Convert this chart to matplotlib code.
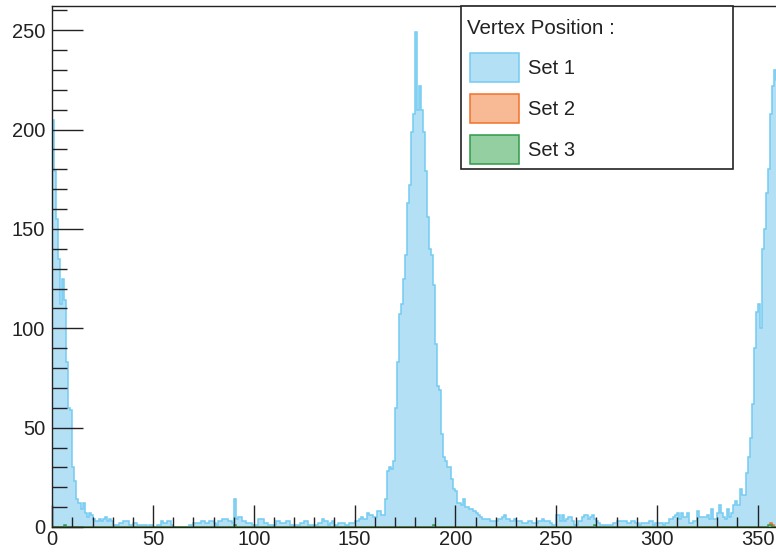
import matplotlib
matplotlib.use('Agg')
import matplotlib.pyplot as plt
from matplotlib.patches import Rectangle
from matplotlib.ticker import MultipleLocator
import numpy as np

plt.rcParams['font.family'] = ['Liberation Sans', 'DejaVu Sans']

# one bin per unit, 0 .. 360
bin_edges = np.arange(0, 361, 1)

set1 = [
    205, 179, 155, 135, 112, 125, 114, 83, 60, 59,
    30, 23, 14, 12, 9, 12, 7, 5, 7, 6,
    4, 3, 3, 4, 3, 4, 5, 3, 4, 3,
    1, 1, 1, 2, 2, 3, 3, 3, 1, 1,
    2, 2, 1, 1, 1, 1, 1, 0, 1, 1,
    0, 0, 1, 1, 3, 2, 2, 3, 3, 1,
    0, 0, 0, 0, 0, 0, 0, 0, 1, 1,
    2, 2, 2, 2, 3, 3, 2, 2, 3, 3,
    2, 1, 3, 3, 4, 4, 4, 3, 3, 2,
    14, 4, 5, 5, 3, 3, 2, 2, 2, 1,
    1, 1, 4, 4, 4, 2, 2, 1, 1, 1,
    1, 3, 3, 2, 2, 2, 3, 3, 1, 1,
    1, 1, 1, 2, 2, 3, 3, 1, 1, 1,
    1, 1, 2, 2, 4, 3, 3, 1, 2, 3,
    1, 1, 2, 2, 2, 1, 1, 2, 2, 2,
    3, 3, 4, 5, 4, 4, 7, 6, 6, 5,
    5, 8, 8, 6, 6, 14, 28, 30, 29, 33,
    60, 83, 107, 112, 125, 137, 163, 172, 199, 208,
    249, 210, 222, 210, 199, 179, 156, 140, 137, 122,
    92, 71, 69, 47, 35, 33, 30, 30, 24, 19,
    18, 12, 12, 11, 14, 10, 10, 9, 9, 8,
    7, 6, 5, 4, 4, 4, 4, 3, 3, 3,
    3, 4, 4, 5, 6, 4, 4, 3, 3, 4,
    3, 3, 3, 2, 2, 2, 3, 3, 2, 2,
    2, 3, 3, 4, 3, 3, 3, 2, 1, 1,
    6, 6, 3, 6, 3, 4, 5, 5, 3, 1,
    1, 3, 3, 5, 6, 6, 4, 5, 6, 4,
    3, 2, 1, 1, 1, 1, 1, 1, 2, 2,
    3, 3, 3, 3, 3, 2, 2, 3, 3, 2,
    2, 1, 2, 2, 2, 2, 3, 3, 1, 2,
    2, 2, 2, 1, 2, 2, 4, 4, 5, 6,
    7, 4, 7, 5, 5, 7, 2, 2, 3, 3,
    8, 5, 5, 5, 5, 6, 4, 9, 4, 4,
    7, 11, 7, 5, 4, 9, 5, 7, 11, 13,
    11, 19, 16, 16, 27, 35, 45, 62, 90, 108,
    112, 100, 140, 150, 168, 180, 208, 222, 230, 225,
]

# sets 2 and 3 are empty apart from a few bins
set2_bins = [356, 357]
set2_counts = [2, 1]
set3_bins = [6, 90, 189, 269, 355, 356]
set3_counts = [1, 1, 1, 1, 1, 1]

labels = ['Set 1', 'Set 2', 'Set 3']
line_colors = ['#74cbf1', '#f2702a', '#2f9c48']
fill_colors = ['#b3e0f5', '#f8b995', '#93cfa1']
legend_title = 'Vertex Position :'

set2 = np.zeros(360)
set2[set2_bins] = set2_counts
set3 = np.zeros(360)
set3[set3_bins] = set3_counts
series = [np.array(set1, dtype=float), set2, set3]

W, H = 776, 557
fig = plt.figure(figsize=(W / 100, H / 100), dpi=100)
x0, x1, y0, y1 = 52.3, 777.8, 6.3, 527.0
ax = fig.add_axes([x0 / W, 1 - y1 / H, (x1 - x0) / W, (y1 - y0) / H])

for vals, lc, fc in zip(series, line_colors, fill_colors):
    ax.stairs(vals, bin_edges, fill=True, facecolor=fc, edgecolor='none', lw=0)
    ax.stairs(vals, bin_edges, color=lc, lw=1.1)

ax.set_xlim(0, 360)
ax.set_ylim(0, 262)
ax.xaxis.set_major_locator(MultipleLocator(50))
ax.xaxis.set_minor_locator(MultipleLocator(10))
ax.yaxis.set_major_locator(MultipleLocator(50))
ax.yaxis.set_minor_locator(MultipleLocator(10))
ax.tick_params(axis='both', which='both', direction='in', width=1,
               color='#222222', labelcolor='#222222', labelsize=14.5,
               top=False, right=False)
ax.tick_params(axis='x', which='major', length=16, pad=2)
ax.tick_params(axis='x', which='minor', length=7)
ax.tick_params(axis='y', which='major', length=22, pad=5)
ax.tick_params(axis='y', which='minor', length=11)
for side in ['left', 'bottom', 'top']:
    ax.spines[side].set_color('#222222')
    ax.spines[side].set_linewidth(1)
ax.spines['right'].set_visible(False)


def fx(px):
    return px / W


def fy(py):
    return 1 - py / H


# legend box, drawn by hand in pixel units
fig.add_artist(Rectangle((fx(460.5), fy(169.5)), fx(732.5) - fx(460.5),
                         fy(6.3) - fy(169.5), transform=fig.transFigure,
                         facecolor='white', edgecolor='#222222', lw=1.2,
                         zorder=5))
fig.text(fx(467), fy(29), legend_title, fontsize=14.8, color='#222222',
         va='center', ha='left', zorder=6)
for i, (lab, lc, fc) in enumerate(zip(labels, line_colors, fill_colors)):
    top = 53 + i * 40.8
    fig.add_artist(Rectangle((fx(470), fy(top + 29.5)), fx(519) - fx(470),
                             fy(top) - fy(top + 29.5), transform=fig.transFigure,
                             facecolor=fc, edgecolor=lc, lw=1.1, zorder=6))
    fig.text(fx(528), fy(top + 16), lab, fontsize=14.5, color='#222222',
             va='center', ha='left', zorder=6)

fig.savefig('out.png', dpi=100)
